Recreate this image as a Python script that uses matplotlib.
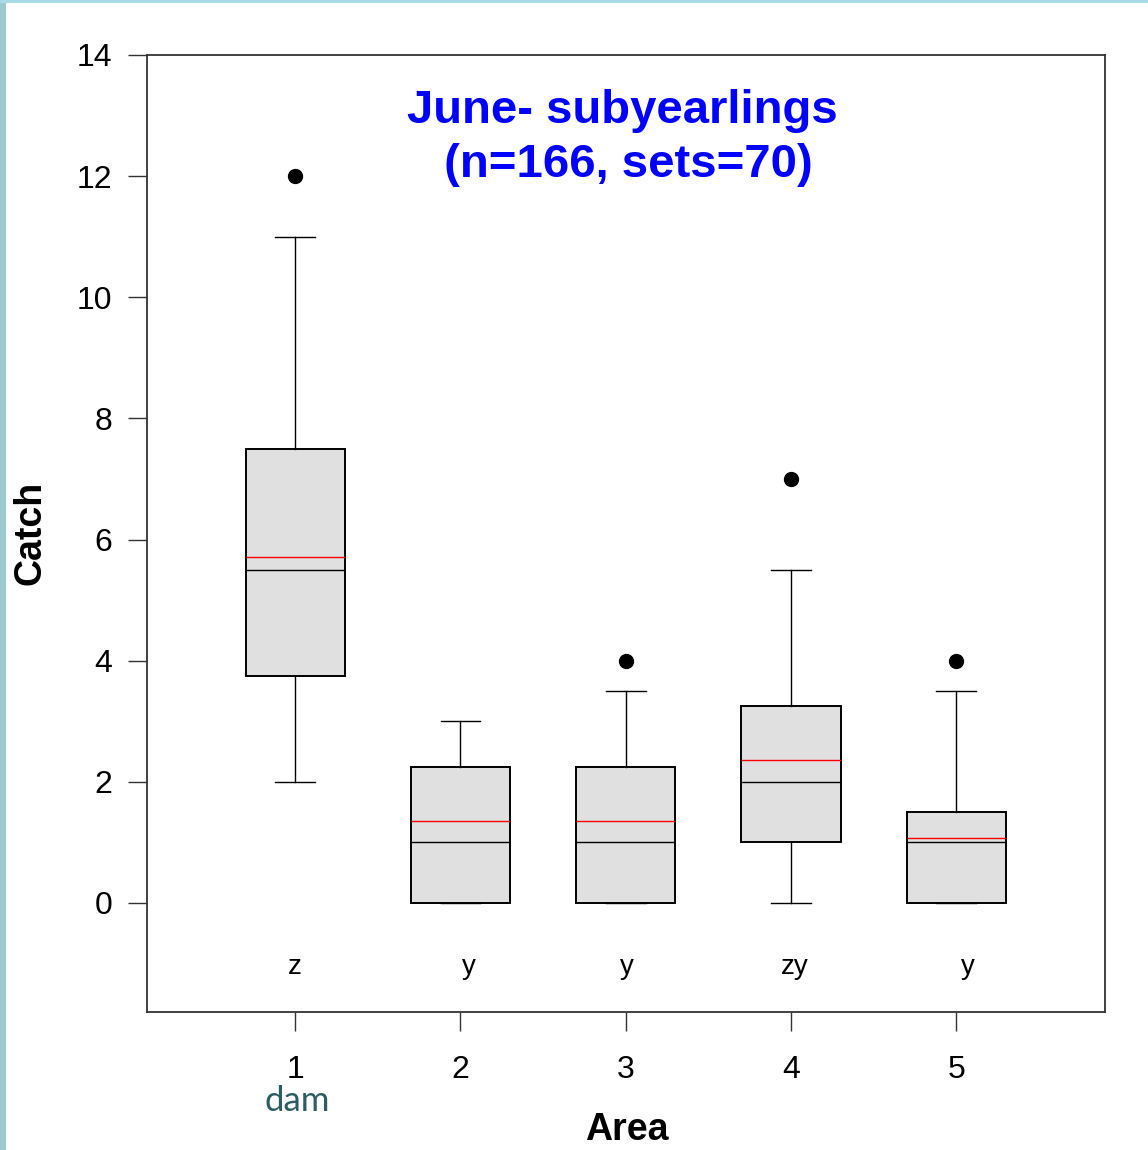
import matplotlib
matplotlib.use("Agg")
import matplotlib.pyplot as plt
from matplotlib.patches import Rectangle

plt.rcParams['font.family'] = ['Liberation Sans', 'DejaVu Sans']

# ---- data ----
areas = [1, 2, 3, 4, 5]
whislo = [2, 0, 0, 0, 0]
q1 = [3.75, 0, 0, 1, 0]
medians = [5.5, 1, 1, 2, 1]
means = [5.72, 1.36, 1.36, 2.36, 1.07]
q3 = [7.5, 2.25, 2.25, 3.25, 1.5]
whishi = [11, 3, 3.5, 5.5, 3.5]
outliers = [[12], [], [4], [7], [4]]
group_letters = ['z', 'y', 'y', 'zy', 'y']
y_ticks = [0, 2, 4, 6, 8, 10, 12, 14]
title_text = "June- subyearlings\n (n=166, sets=70)"

fig = plt.figure(figsize=(11.48, 11.50), dpi=100)
fig.patch.set_facecolor('white')
# slide border strips
fig.patches.append(Rectangle((0, 0), 6/1148, 1, transform=fig.transFigure,
                             facecolor='#9cc9cf', edgecolor='none', zorder=0))
fig.patches.append(Rectangle((0, 1 - 3/1150), 1, 3/1150, transform=fig.transFigure,
                             facecolor='#a8dbe8', edgecolor='none', zorder=0))

ax = fig.add_axes([147/1148, 1 - 1012/1150, (1105-147)/1148, (1012-55)/1150])

stats = []
for i in range(len(areas)):
    stats.append(dict(med=medians[i], q1=q1[i], q3=q3[i], whislo=whislo[i],
                      whishi=whishi[i], fliers=outliers[i], mean=means[i]))

ax.bxp(stats, positions=areas, widths=0.6, patch_artist=True,
       showmeans=True, meanline=True, showfliers=True,
       boxprops=dict(facecolor='#e0e0e0', edgecolor='black', linewidth=1.4),
       medianprops=dict(color='black', linewidth=1.0),
       meanprops=dict(color='red', linewidth=1.0, linestyle='-'),
       whiskerprops=dict(color='black', linewidth=1.0),
       capprops=dict(color='black', linewidth=1.0),
       capwidths=0.24,
       flierprops=dict(marker='o', markerfacecolor='black', markeredgecolor='black',
                       markersize=10))

ax.set_xlim(0.104, 5.90)
ax.set_ylim(-1.8, 14)
ax.set_yticks(y_ticks)
ax.set_xticks(areas)
ax.set_xticklabels([str(a) for a in areas])
ax.tick_params(axis='both', labelsize=23, length=14, width=1.0, color='#333333')
ax.tick_params(axis='y', pad=11)
ax.tick_params(axis='x', pad=17)
for s in ax.spines.values():
    s.set_linewidth(1.3)
    s.set_color('#333333')

letter_dx = [0, 0.05, 0.01, 0.02, 0.07]
for a, dx, lab in zip(areas, letter_dx, group_letters):
    ax.text(a + dx, -1.06, lab, ha='center', va='center', fontsize=20, color='black')

fig.text(622/1148, 1 - 138/1150, title_text, ha='center', va='center',
         fontsize=34, fontweight='bold', color='#0000ff', linespacing=1.32)

fig.text(30/1148, 1 - 533/1150, 'Catch', rotation=90, ha='center', va='center',
         fontsize=27, fontweight='bold')
fig.text(627/1148, 1 - 1130/1150, 'Area', ha='center', va='center',
         fontsize=27, fontweight='bold')
fig.text(297/1148, 1 - 1101/1150, 'dam', ha='center', va='center',
         fontsize=25, color='#2b5d63', family=['Lato', 'DejaVu Sans'])

fig.savefig('out.png', dpi=100, facecolor='white')
